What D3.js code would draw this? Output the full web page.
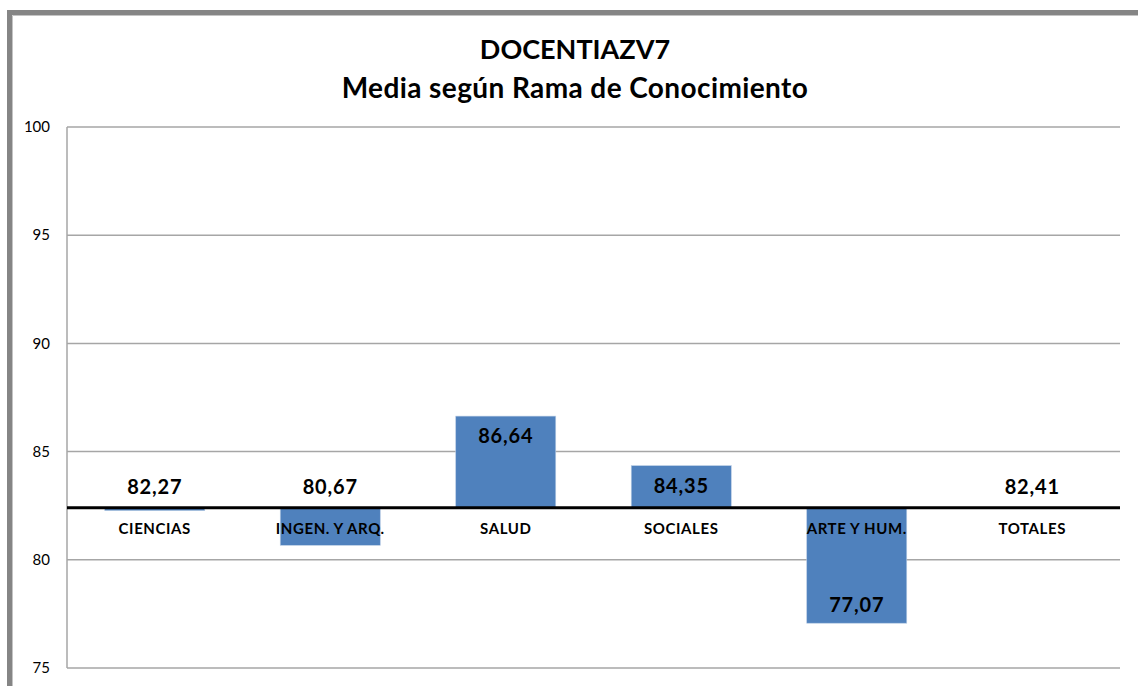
<!DOCTYPE html>
<html>
<meta charset="utf-8">
<script src="https://d3js.org/d3.v7.min.js"></script>
<head>
<style>
body { margin: 0; background: #fff; }
svg text { font-family: Lato, "Open Sans", sans-serif; }
</style>
</head>
<body>
<div id="chart"></div>
<script>
// data
var categories = ["CIENCIAS", "INGEN. Y ARQ.", "SALUD", "SOCIALES", "ARTE Y HUM.", "TOTALES"];
var values = [82.27, 80.67, 86.64, 84.35, 77.07, 82.41];
var baseline = 82.41; // bars hang from the overall mean
var yTicks = [75, 80, 85, 90, 95, 100];
var labels = ["82,27", "80,67", "86,64", "84,35", "77,07", "82,41"];

var width = 1138,
    height = 686
var plot = {left: 67, right: 1120, top: 127, bottom: 668}

var svg = d3.select("#chart")
  .append("svg")
    .attr("width", width)
    .attr("height", height)

// outer frame (top and left edge only are visible)
svg.append("path")
  .attr("d", "M9.5,686 L9.5,12.5 L1138,12.5")
  .attr("fill", "none")
  .attr("stroke", "#858585")
  .attr("stroke-width", 5)
svg.append("path")
  .attr("d", "M12.5,686 L12.5,15.5 L1138,15.5")
  .attr("fill", "none")
  .attr("stroke", "#c4c4c4")
  .attr("stroke-width", 1)

var x = d3.scaleBand()
  .domain(categories)
  .range([plot.left, plot.right])
  .paddingInner(0.43)
  .paddingOuter(0.215)

var y = d3.scaleLinear()
  .domain([75, 100])
  .range([plot.bottom, plot.top])

// gridlines
svg.append("g")
  .selectAll("line")
  .data(yTicks)
  .enter()
  .append("line")
    .attr("x1", plot.left)
    .attr("x2", plot.right)
    .attr("y1", function(d) { return y(d) })
    .attr("y2", function(d) { return y(d) })
    .attr("stroke", "#a6a6a6")
    .attr("stroke-width", 1.5)

// left axis line
svg.append("line")
  .attr("x1", plot.left).attr("x2", plot.left)
  .attr("y1", plot.top).attr("y2", plot.bottom)
  .attr("stroke", "#a6a6a6")
  .attr("stroke-width", 1.5)

// tick labels
svg.append("g")
  .selectAll("text")
  .data(yTicks)
  .enter()
  .append("text")
    .attr("x", 50)
    .attr("y", function(d) { return y(d) })
    .attr("dy", "0.35em")
    .attr("text-anchor", "end")
    .style("font-size", "15px")
    .style("fill", "#000")
    .text(function(d) { return d })

// bars
svg.append("g")
  .selectAll("rect")
  .data(values)
  .enter()
  .append("rect")
    .attr("x", function(d, i) { return x(categories[i]) })
    .attr("width", x.bandwidth())
    .attr("y", function(d) { return y(Math.max(d, baseline)) })
    .attr("height", function(d) { return Math.abs(y(d) - y(baseline)) })
    .attr("fill", "#4f81bd")
    .attr("stroke", "#b9cde5")
    .attr("stroke-width", 0.6)

// category labels, just under the baseline
svg.append("g")
  .selectAll("text")
  .data(categories)
  .enter()
  .append("text")
    .attr("x", function(d) { return x(d) + x.bandwidth() / 2 })
    .attr("y", y(baseline) + 21)
    .attr("dy", "0.35em")
    .attr("text-anchor", "middle")
    .style("font-size", "15px")
    .style("font-weight", "bold")
    .style("letter-spacing", "0.6px")
    .style("fill", "#000")
    .text(function(d) { return d })

// baseline
svg.append("line")
  .attr("x1", plot.left).attr("x2", plot.right)
  .attr("y1", y(baseline)).attr("y2", y(baseline))
  .attr("stroke", "#000")
  .attr("stroke-width", 3)

// value labels: inside the end of tall bars, above the baseline otherwise
svg.append("g")
  .selectAll("text")
  .data(values)
  .enter()
  .append("text")
    .attr("x", function(d, i) { return x(categories[i]) + x.bandwidth() / 2 })
    .attr("y", function(d) {
      var h = y(baseline) - y(d)
      if (h > 40) return y(d) + 20
      if (h < -60) return y(d) - 18
      return y(baseline) - 21
    })
    .attr("dy", "0.35em")
    .attr("text-anchor", "middle")
    .style("font-size", "20px")
    .style("font-weight", "bold")
    .style("letter-spacing", "0.8px")
    .style("fill", "#000")
    .text(function(d, i) { return labels[i] })

// title
svg.append("text")
  .attr("x", 575)
  .attr("y", 50)
  .attr("dy", "0.35em")
  .attr("text-anchor", "middle")
  .style("font-size", "27px")
  .style("font-weight", "bold")
  .text("DOCENTIAZV7")
svg.append("text")
  .attr("x", 575)
  .attr("y", 88)
  .attr("dy", "0.35em")
  .attr("text-anchor", "middle")
  .style("font-size", "28px")
  .style("font-weight", "bold")
  .style("letter-spacing", "0.4px")
  .text("Media según Rama de Conocimiento")
</script>
</body>
</html>
